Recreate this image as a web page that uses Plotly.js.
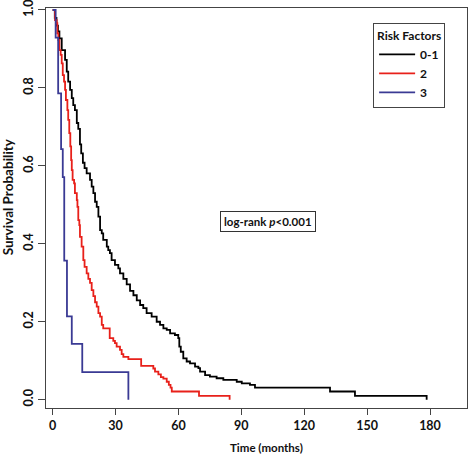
<!DOCTYPE html>
<html>
<head>
<meta charset="utf-8">
<script src="https://cdn.plot.ly/plotly-3.0.1.min.js"></script>
<style>html,body{margin:0;padding:0;background:#fff;}#chart{width:472px;height:456px;}</style>
</head>
<body>
<div id="chart"></div>
<script>
// Risk factor groups
const groupNames = ['0-1', '2', '3'];
const groupColors = ['#000000', '#e8201a', '#3a3a94'];

// Group 0-1 : Kaplan-Meier steps (time in months, survival probability)
const time01 = [0,1.0,1.8,2.5,3.2,4.3,5.9,6.7,7.4,8.3,9.1,9.8,10.6,11.5,12.2,13.0,13.6,14.4,15.2,16.2,17.8,18.6,19.4,20.2,21.0,21.8,22.6,23.4,24.1,25.8,26.5,27.3,28.1,29.7,31.3,32.1,33.7,35.3,36.9,38.5,40.1,41.7,43.2,44.8,47.2,49.6,51.2,52.8,54.4,56.0,58.3,59.9,60.4,61.1,62.3,63.9,65.5,67.9,69.5,70.3,72.7,75.0,78.2,81.4,87.8,90.2,94.1,96.5,132.3,144.2,178.4];
const surv01 = [1,0.98,0.96,0.945,0.927,0.897,0.872,0.842,0.816,0.795,0.774,0.756,0.743,0.71,0.695,0.655,0.632,0.608,0.594,0.581,0.564,0.547,0.53,0.508,0.495,0.47,0.435,0.427,0.41,0.393,0.384,0.376,0.358,0.346,0.337,0.324,0.31,0.296,0.279,0.268,0.255,0.243,0.235,0.222,0.213,0.2,0.192,0.183,0.179,0.17,0.166,0.158,0.136,0.123,0.106,0.098,0.093,0.085,0.081,0.072,0.063,0.059,0.055,0.051,0.046,0.042,0.038,0.031,0.021,0.010,0];

// Group 2
const time2 = [0,1.1,1.9,2.2,2.7,3.2,3.8,4.3,4.8,5.4,5.9,6.3,7.0,7.4,7.9,8.4,8.8,9.1,9.5,10.2,10.6,11.5,11.8,12.2,12.7,13.0,13.8,14.6,15.2,16.2,17.0,17.8,18.6,19.4,20.2,21.0,21.8,22.6,23.4,24.1,27.2,28.9,29.7,30.5,32.1,32.9,33.7,36.1,42.2,48.0,48.8,50.4,51.6,52.8,54.4,55.4,56.2,56.8,69.8,84.4];
const surv2 = [1,0.974,0.966,0.94,0.923,0.897,0.885,0.863,0.833,0.816,0.795,0.769,0.743,0.718,0.684,0.65,0.615,0.589,0.564,0.555,0.53,0.512,0.495,0.461,0.448,0.418,0.393,0.358,0.341,0.324,0.31,0.3,0.281,0.266,0.25,0.239,0.222,0.213,0.192,0.183,0.158,0.151,0.145,0.136,0.128,0.117,0.11,0.104,0.087,0.08,0.072,0.065,0.058,0.054,0.046,0.038,0.031,0.021,0.010,0];

// Group 3
const time3 = [0,1.4,2.6,4.0,4.8,5.5,6.8,9.1,14.1,36.1];
const surv3 = [1,0.929,0.786,0.643,0.571,0.357,0.214,0.143,0.071,0];

// Axis ticks
const xTicks = [0,30,60,90,120,150,180];
const yTicks = [0,0.2,0.4,0.6,0.8,1.0];
const yTickText = ['0.0','0.2','0.4','0.6','0.8','1.0'];

const pValueText = 'log-rank <i>p</i>&lt;0.001';

const times = [time01, time2, time3];
const survs = [surv01, surv2, surv3];

const FONT = 'Lato, "Open Sans", sans-serif';

const traces = groupNames.map((name, i) => ({
  type: 'scatter',
  mode: 'lines',
  name: name,
  x: times[i],
  y: survs[i],
  line: {shape: 'hv', color: groupColors[i], width: 1.8},
  hoverinfo: 'skip'
}));

const layout = {
  width: 472,
  height: 456,
  autosize: false,
  paper_bgcolor: '#ffffff',
  plot_bgcolor: '#ffffff',
  margin: {l: 46, r: 5, t: 8, b: 48, pad: 0},
  showlegend: true,
  font: {family: FONT, size: 12, color: '#111', weight: 'bold'},
  xaxis: {
    range: [-3.2, 197.65],
    tickvals: xTicks,
    ticktext: xTicks.map(String),
    ticks: 'outside', ticklen: 6, tickwidth: 1, tickcolor: '#444',
    showline: true, linecolor: '#444', linewidth: 1, mirror: true,
    showgrid: false, zeroline: false,
    ticklabeloverflow: 'allow',
    tickfont: {family: FONT, size: 12.5, weight: 'bold', color: '#111'}
  },
  yaxis: {
    range: [-0.0213, 1.0051],
    tickvals: yTicks,
    ticktext: yTickText,
    tickangle: -90,
    ticks: 'outside', ticklen: 7, tickwidth: 1, tickcolor: '#444',
    showline: true, linecolor: '#444', linewidth: 1, mirror: true,
    showgrid: false, zeroline: false,
    ticklabeloverflow: 'allow',
    tickfont: {family: FONT, size: 12.5, weight: 'bold', color: '#111'}
  },
  legend: {
    x: 0.777, y: 0.962, xanchor: 'left', yanchor: 'top',
    bgcolor: '#ffffff', bordercolor: '#444', borderwidth: 1,
    font: {family: FONT, size: 12, weight: 'bold', color: '#111'},
    title: {text: 'Risk Factors', side: 'top center', font: {family: FONT, size: 12, weight: 'bold', color: '#111'}},
    itemwidth: 36, tracegroupgap: 0
  },
  annotations: [
    {
      text: pValueText, xref: 'x', yref: 'y', x: 102.6, y: 0.458,
      xanchor: 'center', yanchor: 'middle', showarrow: false,
      font: {family: FONT, size: 11.5, weight: 'bold', color: '#111'},
      bordercolor: '#333', borderwidth: 1, borderpad: 3, bgcolor: '#ffffff'
    },
    {
      text: 'Time (months)', xref: 'paper', yref: 'paper', x: 0.5226, y: -0.099,
      xanchor: 'center', yanchor: 'middle', showarrow: false,
      font: {family: FONT, size: 11.5, weight: 'bold', color: '#111'}
    },
    {
      text: 'Survival Probability', xref: 'paper', yref: 'paper', x: -0.0914, y: 0.528,
      xanchor: 'center', yanchor: 'middle', showarrow: false, textangle: -90,
      font: {family: FONT, size: 13.5, weight: 'bold', color: '#111'}
    }
  ]
};

Plotly.newPlot('chart', traces, layout, {staticPlot: true, displayModeBar: false});
</script>
</body>
</html>
